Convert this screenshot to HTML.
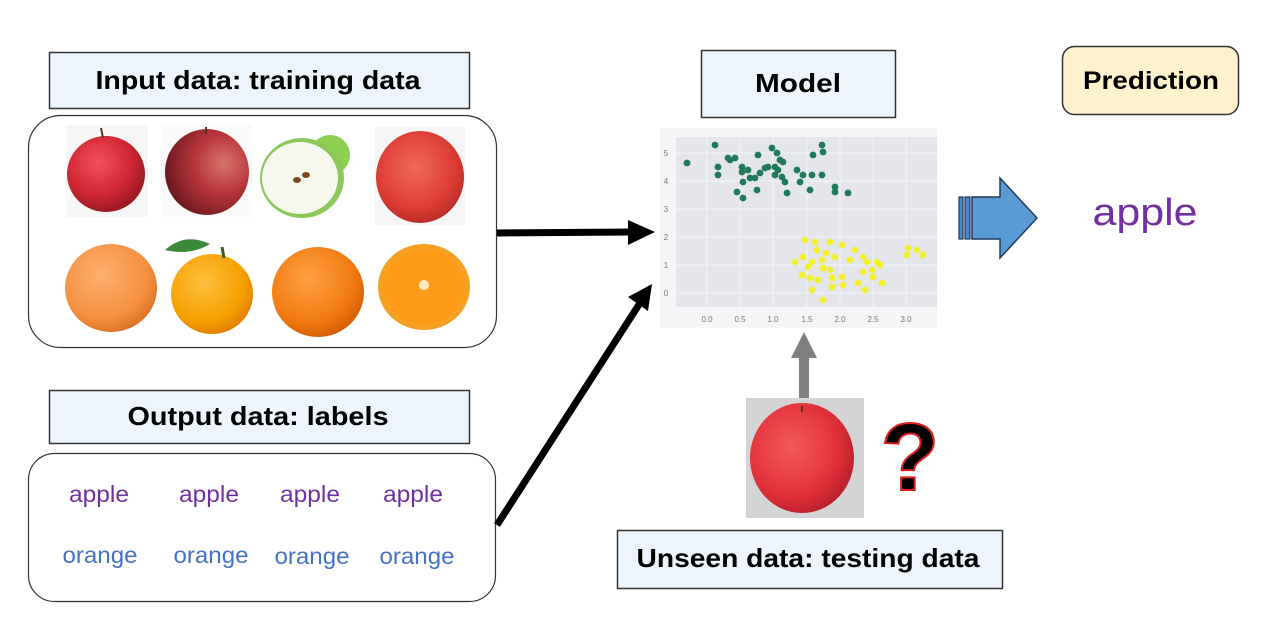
<!DOCTYPE html>
<html><head><meta charset="utf-8"><style>
html,body{margin:0;padding:0;background:#fff;}
svg{display:block;}
text{font-family:"Liberation Sans",sans-serif;}
</style></head><body>
<svg width="1286" height="621" viewBox="0 0 1286 621" xmlns="http://www.w3.org/2000/svg">
<defs>
<radialGradient id="red" cx="40%" cy="35%" r="65%"><stop offset="0" stop-color="#f0505a"/><stop offset="0.6" stop-color="#d42a35"/><stop offset="1" stop-color="#9c1a22"/></radialGradient>
<radialGradient id="red2" cx="70%" cy="40%" r="70%"><stop offset="0" stop-color="#d8746a"/><stop offset="0.5" stop-color="#b8353a"/><stop offset="1" stop-color="#6e1a20"/></radialGradient>
<radialGradient id="red3" cx="45%" cy="40%" r="65%"><stop offset="0" stop-color="#ef6a5a"/><stop offset="0.7" stop-color="#db3b35"/><stop offset="1" stop-color="#b02a25"/></radialGradient>
<radialGradient id="org" cx="40%" cy="35%" r="70%"><stop offset="0" stop-color="#ffb070"/><stop offset="0.7" stop-color="#f59040"/><stop offset="1" stop-color="#d87020"/></radialGradient>
<radialGradient id="org2" cx="40%" cy="35%" r="70%"><stop offset="0" stop-color="#ffc040"/><stop offset="0.7" stop-color="#f5a000"/><stop offset="1" stop-color="#e07800"/></radialGradient>
<radialGradient id="org3" cx="40%" cy="35%" r="70%"><stop offset="0" stop-color="#ffa040"/><stop offset="0.7" stop-color="#f07a10"/><stop offset="1" stop-color="#d05a00"/></radialGradient>
<radialGradient id="tred" cx="40%" cy="40%" r="65%"><stop offset="0" stop-color="#f25a5a"/><stop offset="0.7" stop-color="#e03038"/><stop offset="1" stop-color="#b5202a"/></radialGradient>
</defs>

<rect x="49.5" y="52.5" width="420" height="56" fill="#edf4fb" stroke="#333" stroke-width="1.5"/>
<text x="258" y="89" font-size="26" font-weight="bold" text-anchor="middle" textLength="325" lengthAdjust="spacingAndGlyphs">Input data: training data</text>
<rect x="28.5" y="115.5" width="468" height="232" rx="32" fill="#fff" stroke="#333" stroke-width="1.2"/>

<rect x="66" y="125" width="82" height="92" fill="#f6f6f6"/>
<ellipse cx="106" cy="174" rx="39" ry="38" fill="url(#red)"/>
<path d="M103 138 L101 128" stroke="#5a3a1a" stroke-width="2"/>
<rect x="161" y="125" width="91" height="92" fill="#fafafa"/>
<ellipse cx="207" cy="172" rx="42" ry="43" fill="url(#red2)"/>
<path d="M206 134 L206 127" stroke="#5a3a1a" stroke-width="2"/>
<rect x="256" y="130" width="92" height="91" fill="#fff"/>
<circle cx="330" cy="155" r="20" fill="#8cd050"/>
<ellipse cx="302" cy="178" rx="42" ry="40" fill="#8cc85a"/>
<ellipse cx="300" cy="178" rx="38" ry="36" fill="#f6f8ee"/>
<ellipse cx="297" cy="180" rx="4" ry="3" fill="#7a4a20"/><ellipse cx="306" cy="175" rx="4" ry="3" fill="#7a4a20"/>
<rect x="375" y="127" width="90" height="98" fill="#f6f6f6"/>
<ellipse cx="420" cy="177" rx="44" ry="46" fill="url(#red3)"/>
<rect x="65" y="243" width="94" height="90" fill="#fff"/>
<ellipse cx="111" cy="288" rx="46" ry="44" fill="url(#org)"/>
<rect x="163" y="240" width="91" height="94" fill="#fff"/>
<ellipse cx="212" cy="294" rx="41" ry="40" fill="url(#org2)"/>
<path d="M165 250 Q185 232 210 244 Q190 256 165 250Z" fill="#3a8a3a"/>
<path d="M222 247 L224 258" stroke="#3a5a1a" stroke-width="3"/>
<rect x="270" y="245" width="98" height="90" fill="#fff"/>
<ellipse cx="318" cy="292" rx="46" ry="45" fill="url(#org3)"/>
<rect x="376" y="242" width="96" height="90" fill="#fff"/>
<ellipse cx="424" cy="287" rx="46" ry="43" fill="#f5a020"/>
<ellipse cx="424" cy="287" rx="40" ry="37" fill="#ff9a18"/>
<circle cx="424" cy="285" r="5" fill="#ffe9c0"/>

<rect x="49.5" y="390.5" width="420" height="53" fill="#edf4fb" stroke="#333" stroke-width="1.5"/>
<text x="258" y="425" font-size="26" font-weight="bold" text-anchor="middle" textLength="261" lengthAdjust="spacingAndGlyphs">Output data: labels</text>
<rect x="28.5" y="453.5" width="467" height="148" rx="26" fill="#fff" stroke="#333" stroke-width="1.2"/>
<g font-size="23" fill="#7030a0" text-anchor="middle">
<text x="99" y="502" textLength="60" lengthAdjust="spacingAndGlyphs">apple</text><text x="209" y="502" textLength="60" lengthAdjust="spacingAndGlyphs">apple</text><text x="310" y="502" textLength="60" lengthAdjust="spacingAndGlyphs">apple</text><text x="413" y="502" textLength="60" lengthAdjust="spacingAndGlyphs">apple</text>
</g>
<g font-size="23" fill="#4472c4" text-anchor="middle">
<text x="100" y="563" textLength="75" lengthAdjust="spacingAndGlyphs">orange</text><text x="211" y="563" textLength="75" lengthAdjust="spacingAndGlyphs">orange</text><text x="312" y="564" textLength="75" lengthAdjust="spacingAndGlyphs">orange</text><text x="417" y="564" textLength="75" lengthAdjust="spacingAndGlyphs">orange</text>
</g>

<line x1="497" y1="233" x2="632" y2="232" stroke="#000" stroke-width="7"/>
<polygon points="655,232 628,220 628,245" fill="#000"/>
<line x1="497" y1="525" x2="640" y2="303" stroke="#000" stroke-width="7"/>
<polygon points="652,284 628,297 648,311" fill="#000"/>

<rect x="701.5" y="50.5" width="194" height="67" fill="#edf4fb" stroke="#333" stroke-width="1.5"/>
<text x="798" y="92" font-size="26" font-weight="bold" text-anchor="middle" textLength="86" lengthAdjust="spacingAndGlyphs">Model</text>

<rect x="660" y="128" width="277" height="200" fill="#f4f5f7"/>
<rect x="676" y="137" width="261" height="170" fill="#e4e6ec"/>
<g stroke="#f3f4f7" stroke-width="1">
<line x1="676" y1="153" x2="937" y2="153"/><line x1="676" y1="181" x2="937" y2="181"/><line x1="676" y1="209" x2="937" y2="209"/><line x1="676" y1="237" x2="937" y2="237"/><line x1="676" y1="265" x2="937" y2="265"/><line x1="676" y1="293" x2="937" y2="293"/>
<line x1="707" y1="137" x2="707" y2="307"/><line x1="740" y1="137" x2="740" y2="307"/><line x1="773" y1="137" x2="773" y2="307"/><line x1="807" y1="137" x2="807" y2="307"/><line x1="840" y1="137" x2="840" y2="307"/><line x1="873" y1="137" x2="873" y2="307"/><line x1="906" y1="137" x2="906" y2="307"/>
</g>
<g font-size="8" fill="#777" text-anchor="middle">
<text x="666" y="156">5</text><text x="666" y="184">4</text><text x="666" y="212">3</text><text x="666" y="240">2</text><text x="666" y="268">1</text><text x="666" y="296">0</text>
<text x="707" y="322">0.0</text><text x="740" y="322">0.5</text><text x="773" y="322">1.0</text><text x="807" y="322">1.5</text><text x="840" y="322">2.0</text><text x="873" y="322">2.5</text><text x="906" y="322">3.0</text>
</g>
<g fill="#1f7a5a">
<circle cx="687" cy="163" r="3.4"/><circle cx="715" cy="145" r="3.4"/><circle cx="718" cy="167" r="3.4"/><circle cx="718" cy="175" r="3.4"/><circle cx="730" cy="160" r="3.4"/><circle cx="735" cy="158" r="3.4"/><circle cx="737" cy="192" r="3.4"/><circle cx="742" cy="167" r="3.4"/><circle cx="742" cy="172" r="3.4"/><circle cx="743" cy="182" r="3.4"/><circle cx="743" cy="198" r="3.4"/><circle cx="750" cy="178" r="3.4"/><circle cx="755" cy="178" r="3.4"/><circle cx="757" cy="190" r="3.4"/><circle cx="758" cy="155" r="3.4"/><circle cx="760" cy="173" r="3.4"/><circle cx="768" cy="167" r="3.4"/><circle cx="772" cy="148" r="3.4"/><circle cx="775" cy="167" r="3.4"/><circle cx="777" cy="153" r="3.4"/><circle cx="775" cy="175" r="3.4"/><circle cx="780" cy="160" r="3.4"/><circle cx="783" cy="162" r="3.4"/><circle cx="785" cy="182" r="3.4"/><circle cx="787" cy="193" r="3.4"/><circle cx="797" cy="170" r="3.4"/><circle cx="800" cy="182" r="3.4"/><circle cx="803" cy="175" r="3.4"/><circle cx="810" cy="190" r="3.4"/><circle cx="812" cy="175" r="3.4"/><circle cx="813" cy="155" r="3.4"/><circle cx="822" cy="145" r="3.4"/><circle cx="823" cy="152" r="3.4"/><circle cx="822" cy="175" r="3.4"/><circle cx="835" cy="187" r="3.4"/><circle cx="835" cy="192" r="3.4"/><circle cx="848" cy="193" r="3.4"/><circle cx="778" cy="170" r="3.4"/><circle cx="782" cy="177" r="3.4"/><circle cx="765" cy="168" r="3.4"/><circle cx="748" cy="170" r="3.4"/><circle cx="728" cy="158" r="3.4"/>
</g>
<g fill="#f2f030">
<circle cx="805" cy="240" r="3.4"/><circle cx="815" cy="242" r="3.4"/><circle cx="830" cy="242" r="3.4"/><circle cx="842" cy="245" r="3.4"/><circle cx="795" cy="262" r="3.4"/><circle cx="803" cy="257" r="3.4"/><circle cx="808" cy="267" r="3.4"/><circle cx="817" cy="250" r="3.4"/><circle cx="822" cy="260" r="3.4"/><circle cx="823" cy="268" r="3.4"/><circle cx="802" cy="275" r="3.4"/><circle cx="810" cy="278" r="3.4"/><circle cx="818" cy="280" r="3.4"/><circle cx="830" cy="270" r="3.4"/><circle cx="832" cy="278" r="3.4"/><circle cx="835" cy="257" r="3.4"/><circle cx="842" cy="277" r="3.4"/><circle cx="843" cy="285" r="3.4"/><circle cx="832" cy="287" r="3.4"/><circle cx="812" cy="290" r="3.4"/><circle cx="823" cy="300" r="3.4"/><circle cx="850" cy="260" r="3.4"/><circle cx="855" cy="250" r="3.4"/><circle cx="863" cy="257" r="3.4"/><circle cx="867" cy="262" r="3.4"/><circle cx="872" cy="270" r="3.4"/><circle cx="877" cy="262" r="3.4"/><circle cx="880" cy="265" r="3.4"/><circle cx="863" cy="272" r="3.4"/><circle cx="858" cy="283" r="3.4"/><circle cx="865" cy="290" r="3.4"/><circle cx="882" cy="283" r="3.4"/><circle cx="873" cy="277" r="3.4"/><circle cx="907" cy="255" r="3.4"/><circle cx="908" cy="248" r="3.4"/><circle cx="917" cy="250" r="3.4"/><circle cx="923" cy="255" r="3.4"/><circle cx="812" cy="262" r="3.4"/><circle cx="826" cy="253" r="3.4"/>
</g>

<rect x="959" y="197" width="4" height="42" fill="#4a86c8" stroke="#1f3a5a" stroke-width="1.2"/>
<rect x="965" y="197" width="5" height="42" fill="#4a86c8" stroke="#1f3a5a" stroke-width="1.2"/>
<polygon points="972,197 1000,197 1000,178 1037,218 1000,258 1000,239 972,239" fill="#5b9bd5" stroke="#1f3a5a" stroke-width="1.5"/>

<rect x="1062.5" y="46.5" width="176" height="68" rx="12" fill="#fff2cc" stroke="#333" stroke-width="1.5"/>
<text x="1151" y="89" font-size="25" font-weight="bold" text-anchor="middle" textLength="136" lengthAdjust="spacingAndGlyphs">Prediction</text>
<text x="1145" y="225" font-size="38" fill="#7030a0" text-anchor="middle" textLength="105" lengthAdjust="spacingAndGlyphs">apple</text>

<rect x="799" y="357" width="10" height="46" fill="#7f7f7f"/>
<polygon points="804,332 791,358 817,358" fill="#7f7f7f"/>

<rect x="746" y="398" width="118" height="120" fill="#d4d4d6"/>
<ellipse cx="802" cy="458" rx="52" ry="55" fill="url(#tred)"/>
<path d="M802 406 L802 412" stroke="#5a3a1a" stroke-width="2"/>

<text x="910" y="490" font-size="96" font-weight="bold" fill="#000" stroke="#e02020" stroke-width="2" text-anchor="middle">?</text>

<rect x="617.5" y="530.5" width="385" height="58" fill="#edf4fb" stroke="#333" stroke-width="1.5"/>
<text x="808" y="567" font-size="26" font-weight="bold" text-anchor="middle" textLength="343" lengthAdjust="spacingAndGlyphs">Unseen data: testing data</text>
</svg>
</body></html>
